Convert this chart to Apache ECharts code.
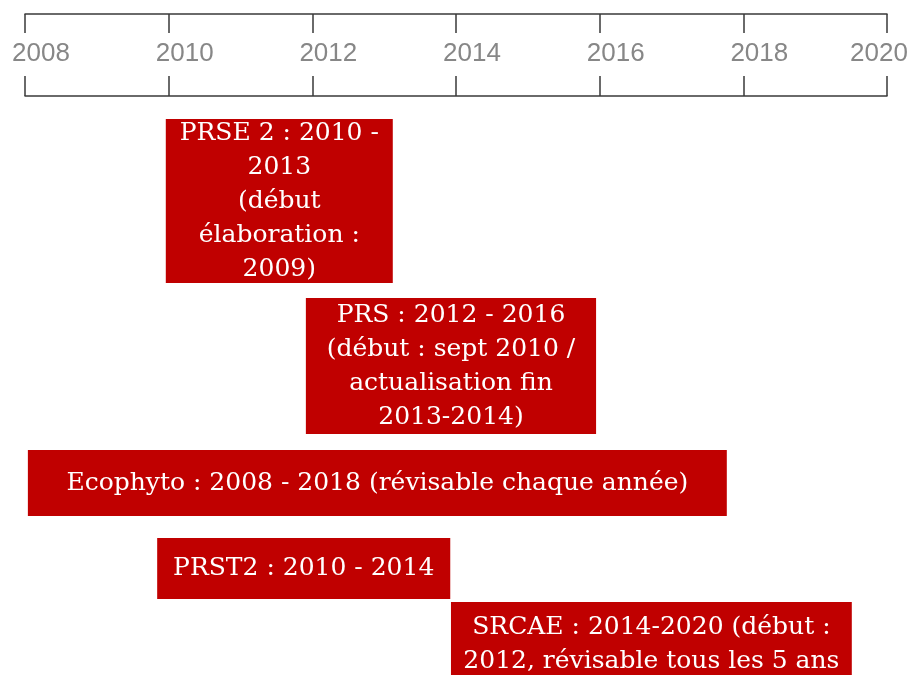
<!DOCTYPE html>
<html><head><meta charset="utf-8">
<script src="https://cdn.jsdelivr.net/npm/echarts@6/dist/echarts.min.js"></script>
<style>html,body{margin:0;padding:0;background:#fff}#c{width:911px;height:675px}</style>
</head><body><div id="c"></div>
<script>
// ---- data ----
const yearTicks = [2008, 2010, 2012, 2014, 2016, 2018, 2020];
const planNames = ['PRSE 2', 'PRS', 'Ecophyto', 'PRST2', 'SRCAE'];
const planLabels = [
  'PRSE 2 : 2010 -\n2013\n(début\nélaboration :\n2009)',
  'PRS : 2012 - 2016\n(début : sept 2010 /\nactualisation fin\n2013-2014)',
  'Ecophyto : 2008 - 2018 (révisable chaque année)',
  'PRST2 : 2010 - 2014',
  'SRCAE : 2014-2020 (début :\n2012, révisable tous les 5 ans'
];
const planStart = [2009.96, 2011.91, 2008.04, 2009.84, 2013.93];
const planEnd   = [2013.12, 2015.95, 2017.77, 2013.92, 2019.51];
// vertical lane extent of each box (lane units, 0 = top of chart)
const laneTop    = [23.8, 59.6, 90.0, 107.6, 120.4];
const laneBottom = [56.6, 86.8, 103.2, 119.8, 137.2];

// ---- chart ----
const chart = echarts.init(document.getElementById('c'), null, {renderer: 'canvas'});
const axisColor = '#3a3a3a';
const labelFont = '"Liberation Sans", Arial, sans-serif';
const labelColor = '#878787';
const data = planNames.map((n, i) => ({name: n, value: [planStart[i], planEnd[i], laneTop[i], laneBottom[i]]}));

function renderItem(params, api) {
  const s = api.coord([api.value(0), api.value(2)]);
  const e = api.coord([api.value(1), api.value(3)]);
  const i = params.dataIndex;
  return {
    type: 'group',
    children: [
      {type: 'rect', shape: {x: s[0], y: s[1], width: e[0] - s[0], height: e[1] - s[1]},
       style: {fill: '#C00000'}},
      {type: 'text', x: (s[0] + e[0]) / 2, y: (s[1] + e[1]) / 2,
       style: {text: planLabels[i], fill: '#ffffff', fontSize: 25, fontFamily: '"DejaVu Serif", serif',
               align: 'center', verticalAlign: 'middle', lineHeight: 34}}
    ]
  };
}

const yearMin = yearTicks[0], yearMax = yearTicks[yearTicks.length - 1];
chart.setOption({
  animation: false,
  backgroundColor: '#ffffff',
  grid: [
    {left: 25, right: 24, top: 14, height: 82},
    {left: 25, right: 24, top: 0, height: 675}
  ],
  xAxis: [
    {gridIndex: 0, type: 'value', position: 'top', min: yearMin, max: yearMax, interval: 2,
     axisLine: {show: true, onZero: false, lineStyle: {color: axisColor, width: 1.5}},
     axisTick: {show: true, inside: true, length: 19, lineStyle: {color: axisColor, width: 1.5}},
     splitLine: {show: false},
     axisLabel: {show: true, inside: true, margin: 27, color: labelColor, fontSize: 26,
       fontFamily: labelFont,
       formatter: v => (v === yearMax ? '{r|' + v + '}' : '{n|' + v + '}'),
       rich: {
         n: {padding: [0, 0, 0, 32], color: labelColor, fontSize: 26, fontFamily: labelFont},
         r: {padding: [0, 16, 0, 0], color: labelColor, fontSize: 26, fontFamily: labelFont}
       }}},
    {gridIndex: 0, type: 'value', position: 'bottom', min: yearMin, max: yearMax, interval: 2,
     axisLine: {show: true, onZero: false, lineStyle: {color: axisColor, width: 1.5}},
     axisTick: {show: true, inside: true, length: 20, lineStyle: {color: axisColor, width: 1.5}},
     splitLine: {show: false}, axisLabel: {show: false}},
    {gridIndex: 1, type: 'value', min: yearMin, max: yearMax, show: false}
  ],
  yAxis: [
    {gridIndex: 0, type: 'value', min: 0, max: 1, show: false},
    {gridIndex: 1, type: 'value', min: 0, max: 135, inverse: true, show: false}
  ],
  series: [{
    type: 'custom', xAxisIndex: 2, yAxisIndex: 1, clip: false,
    renderItem: renderItem,
    encode: {x: [0, 1], y: [2, 3]},
    data: data
  }]
});
</script></body></html>
